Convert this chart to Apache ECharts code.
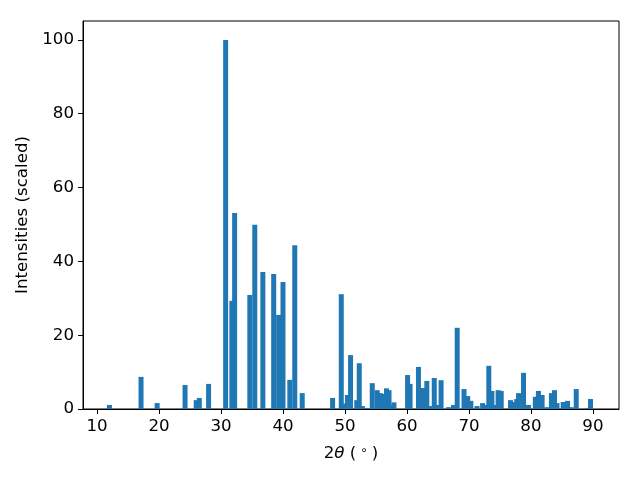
<!DOCTYPE html>
<html>
<head>
<meta charset="utf-8">
<script src="https://cdn.jsdelivr.net/npm/echarts@6/dist/echarts.min.js"></script>
<style>html,body{margin:0;padding:0;background:#fff}#c{width:640px;height:480px}</style>
</head>
<body>
<div id="c"></div>
<script>
const twoTheta = [12.0,17.1,19.7,24.2,26.0,26.5,28.0,30.75,31.75,32.2,34.65,35.45,36.75,38.5,39.3,40.0,41.1,41.9,43.1,
  48.0,49.4,49.9,50.4,50.9,51.9,52.3,52.8,53.5,54.4,55.2,55.7,56.0,56.7,57.1,57.4,57.9,
  60.1,60.5,61.85,62.15,62.5,63.2,63.7,64.4,65.0,65.5,66.7,67.5,68.1,69.2,69.8,70.3,71.3,72.2,72.6,73.2,73.7,74.2,74.7,75.2,
  76.7,77.1,77.4,77.7,78.0,78.8,79.6,80.7,81.2,81.8,82.6,83.3,83.8,84.2,85.2,85.9,86.5,87.3,89.2,89.6];
const intensity = [1.1,8.7,1.6,6.5,2.4,3.0,6.8,100,29.3,53.1,30.9,49.9,37.1,36.6,25.5,34.4,7.9,44.4,4.3,
  3.0,31.1,1.5,3.8,14.6,2.4,12.4,0.8,0.3,7.0,5.1,4.3,4.1,5.6,5.1,1.0,1.8,
  9.2,6.8,11.4,2.2,5.7,7.6,0.8,8.4,1.1,7.8,0.5,1.1,22.0,5.4,3.5,2.2,0.8,1.6,1.1,11.7,4.9,1.1,5.1,4.9,
  2.4,1.9,1.6,2.7,4.3,9.8,1.1,3.3,4.9,3.8,0.5,4.3,5.1,1.6,1.9,2.2,0.5,5.4,0.3,2.7];
const xTicks = [10,20,30,40,50,60,70,80,90];
const yTicks = [0,20,40,60,80,100];

const data = twoTheta.map((x,i)=>[x,intensity[i]]);
const font = 'DejaVu Sans';
const chart = echarts.init(document.getElementById('c'), null, {renderer:'canvas'});
chart.setOption({
  animation:false,
  grid:{left:83,right:21,top:21,bottom:71,show:true,borderColor:'#000',borderWidth:1,backgroundColor:'transparent'},
  xAxis:{type:'value',min:7.74,max:94.2,
    name:'2{i|θ} ({s|∘})',nameLocation:'middle',nameGap:36,
    nameTextStyle:{fontFamily:font,fontSize:16.67,color:'#000',rich:{i:{fontFamily:font,fontStyle:'italic',fontSize:16.67,color:'#000'},s:{fontFamily:font,fontSize:12,color:'#000',verticalAlign:'top',padding:[0,4,6,4]}}},
    axisLine:{show:true,lineStyle:{color:'#000',width:1}},
    axisTick:{show:true,inside:false,length:5,lineStyle:{color:'#000'},customValues:xTicks},
    axisLabel:{fontFamily:font,fontSize:16.67,color:'#000',margin:9,customValues:xTicks},
    splitLine:{show:false}},
  yAxis:{type:'value',min:0,max:105.13,
    name:'Intensities (scaled)',nameLocation:'middle',nameGap:46,
    nameTextStyle:{fontFamily:font,fontSize:16.67,color:'#000'},
    axisLine:{show:true,lineStyle:{color:'#000',width:1}},
    axisTick:{show:true,inside:false,length:5,lineStyle:{color:'#000'},customValues:yTicks},
    axisLabel:{fontFamily:font,fontSize:16.67,color:'#000',margin:9,customValues:yTicks},
    splitLine:{show:false}},
  series:[{type:'bar',data:data,barWidth:5,itemStyle:{color:'#1f77b4'},barGap:'-100%'}]
});
</script>
</body>
</html>
